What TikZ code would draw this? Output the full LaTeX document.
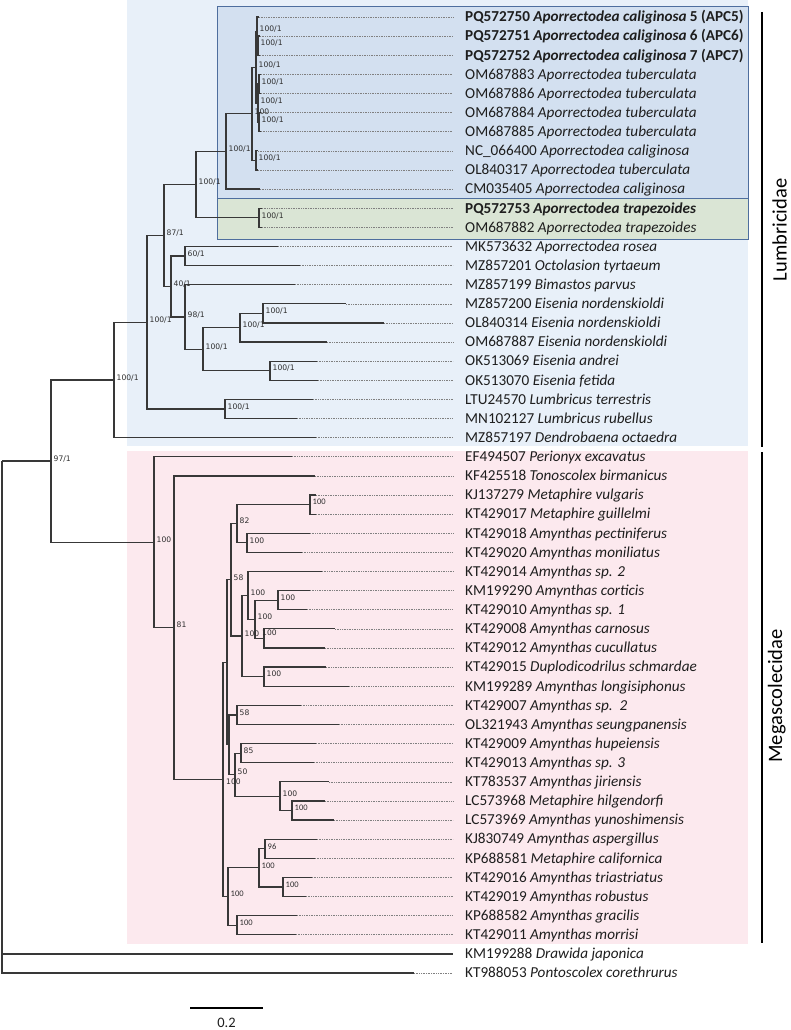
\documentclass[tikz,border=0pt]{standalone}
\usepackage{fontspec}
\setmainfont{Carlito}
\newfontfamily\leaffont{Carlito}
\newfontfamily\bsfont{DejaVu Sans}
\definecolor{bgblue}{HTML}{E8F0F9}
\definecolor{boxblue}{HTML}{D3E0F0}
\definecolor{boxgreen}{HTML}{DAE5D5}
\definecolor{boxline}{HTML}{4E6E9E}
\definecolor{bgpink}{HTML}{FCE9EE}
\definecolor{brc}{HTML}{383838}
\definecolor{dotc}{HTML}{808080}
\definecolor{txtc}{HTML}{1E1E1E}
\definecolor{bsc}{HTML}{2E2E2E}
\tikzset{
  br/.style={draw=brc, line width=1.25pt},
  dl/.style={draw=dotc, line width=0.6pt, dash pattern=on 0.6pt off 1.1pt},
  leaf/.style={anchor=west, inner xsep=12pt, inner ysep=0pt, text height=10.6pt, text depth=1pt,
    font=\leaffont\fontsize{15.2}{18}\selectfont, text=txtc},
  bs/.style={anchor=west, inner sep=0pt, text height=5.5pt, text depth=0pt,
    font=\bsfont\fontsize{7.6}{9}\selectfont, text=bsc},
  bss/.style={anchor=west, inner sep=0pt, text height=5.6pt, text depth=0pt,
    font=\leaffont\fontsize{8.5}{10}\selectfont, text=bsc},
  grp/.style={rotate=90, anchor=base, inner sep=0pt, font=\fontsize{20.5}{24}\selectfont, text=black},
  bar/.style={draw=black, line width=1.6pt}
}
\newcommand\leafrow[4]{%
  \coordinate (l#1) at (#2,#1);
  \node[leaf] (t#1) at (453,#1) {#4};
  \draw[br] (#3) |- (l#1);
  \draw[dl] (l#1) -- (t#1.west);
}
\newcommand\bsl[3][bs]{\node[#1] (b#2) at ([shift={(2.5pt,2.5pt)}]#2) {#3};}
\newcommand\br[2]{\draw[br] (#1) |- (#2);}
\begin{document}
\begin{tikzpicture}[x=1pt,y=-1pt]
\useasboundingbox (0,0) rectangle (790,1030);
% backgrounds
\fill[bgblue] (127,0) rectangle (748,446);
\fill[bgpink] (127,451) rectangle (748,944);
\filldraw[fill=boxblue, draw=boxline, line width=1pt] (217,7) rectangle (748,198);
\filldraw[fill=boxgreen, draw=boxline, line width=1pt] (217,198) rectangle (748,239);
% group bars
\coordinate (lb1) at (762,12); \coordinate (lb2) at (762,447);
\coordinate (mb1) at (762,452); \coordinate (mb2) at (762,943);
\draw[bar] (lb1) -- (lb2);
\draw[bar] (mb1) -- (mb2);
\node[grp] (glum) at (786.5,230) {Lumbricidae};
\node[grp] (gmeg) at (782,696) {Megascolecidae};
% scale bar
\coordinate (sb1) at (190,1008); \coordinate (sb2) at (263,1008);
\draw[draw=black, line width=1.2pt] (sb1) -- (sb2);
\node[font=\fontsize{14.5}{17}\selectfont, text=txtc, inner sep=0pt] (sbl) at (226.5,1023) {0.2};
\begin{scope}[y=-19.12pt, yshift=2.12pt]
% internal nodes
\coordinate (nK) at (257,1.75);
\coordinate (nKb) at (258,2.5);
\coordinate (nL45) at (259,4.5);
\coordinate (nL67) at (259,6.5);
\coordinate (nL47) at (258,5.5);
\coordinate (nI) at (256,3.625);
\coordinate (nJ) at (256,8.5);
\coordinate (nH) at (252,6.0625);
\coordinate (nF) at (226,8.03125);
\coordinate (nG) at (259,11.5);
\coordinate (nD) at (196,9.765625);
\coordinate (n60) at (185,13.5);
\coordinate (nP) at (263,16.5);
\coordinate (nN) at (240,17.25);
\coordinate (nO) at (270,19.5);
\coordinate (nM) at (203,18.375);
\coordinate (n98) at (185,16.6875);
\coordinate (nE) at (171,15.09375);
\coordinate (nC) at (164,12.4297);
\coordinate (nLum) at (225,21.5);
\coordinate (nB) at (147,16.9648);
\coordinate (nA) at (114,19.9824);
\coordinate (nMv) at (310,26.5);
\coordinate (nAp) at (247,28.5);
\coordinate (nX) at (237,27.5);
\coordinate (nAC) at (278,31.5);
\coordinate (nAD) at (264,33.5);
\coordinate (nAB) at (255,32.5);
\coordinate (nZ) at (248,31.25);
\coordinate (nAA) at (264,35.5);
\coordinate (nY) at (242,33.375);
\coordinate (nV) at (231,30.4375);
\coordinate (n58b) at (237,37.5);
\coordinate (n85) at (241,39.5);
\coordinate (nLC) at (292,42.5);
\coordinate (n100c) at (280,41.75);
\coordinate (n50) at (235,40.625);
\coordinate (nW) at (229,39.0625);
\coordinate (nT) at (227,34.75);
\coordinate (nAG) at (265,44.5);
\coordinate (nAH) at (283,46.5);
\coordinate (nAE) at (259,45.5);
\coordinate (nAF) at (237,48.5);
\coordinate (nU) at (228,47);
\coordinate (nS) at (223,40.875);
\coordinate (nR) at (174,32.9375);
\coordinate (nQ) at (154,28.46875);
\coordinate (n97) at (51,24.2256);
\coordinate (r) at (2,24.2256);
% internal branches
\br{nK}{nKb} \br{nL47}{nL45} \br{nL47}{nL67} \br{nI}{nK} \br{nI}{nL47}
\br{nH}{nI} \br{nH}{nJ} \br{nF}{nH} \br{nD}{nF} \br{nD}{nG}
\br{nC}{nD} \br{nC}{nE} \br{nE}{n60} \br{nE}{n98} \br{n98}{nM}
\br{nM}{nN} \br{nM}{nO} \br{nN}{nP} \br{nB}{nC} \br{nB}{nLum} \br{nA}{nB}
\br{n97}{nA} \br{n97}{nQ} \draw[br] (r) -- (n97);
\br{nQ}{nR} \br{nR}{nS} \br{nS}{nT} \br{nS}{nU} \br{nT}{nV} \br{nT}{nW}
\br{nV}{nX} \br{nV}{nY} \br{nX}{nMv} \br{nX}{nAp} \br{nY}{nZ} \br{nY}{nAA}
\br{nZ}{nAB} \br{nAB}{nAC} \br{nAB}{nAD} \br{nW}{n58b} \br{nW}{n50}
\br{n50}{n85} \br{n50}{n100c} \br{n100c}{nLC} \br{nU}{nAE} \br{nU}{nAF}
\br{nAE}{nAG} \br{nAE}{nAH}
% leaves
\leafrow{1}{259}{nK}{\textbf{PQ572750 \textit{Aporrectodea caliginosa} 5 (APC5)}}
\leafrow{2}{260}{nKb}{\textbf{PQ572751 \textit{Aporrectodea caliginosa} 6 (APC6)}}
\leafrow{3}{260}{nKb}{\textbf{PQ572752 \textit{Aporrectodea caliginosa} 7 (APC7)}}
\leafrow{4}{261}{nL45}{OM687883 \textit{Aporrectodea tuberculata}}
\leafrow{5}{261}{nL45}{OM687886 \textit{Aporrectodea tuberculata}}
\leafrow{6}{261}{nL67}{OM687884 \textit{Aporrectodea tuberculata}}
\leafrow{7}{261}{nL67}{OM687885 \textit{Aporrectodea tuberculata}}
\leafrow{8}{258}{nJ}{NC\_066400 \textit{Aporrectodea caliginosa}}
\leafrow{9}{258}{nJ}{OL840317 \textit{Aporrectodea tuberculata}}
\leafrow{10}{260}{nF}{CM035405 \textit{Aporrectodea caliginosa}}
\leafrow{11}{262}{nG}{\textbf{PQ572753 \textit{Aporrectodea trapezoides}}}
\leafrow{12}{262}{nG}{OM687882 \textit{Aporrectodea trapezoides}}
\leafrow{13}{278}{n60}{MK573632 \textit{Aporrectodea rosea}}
\leafrow{14}{300}{n60}{MZ857201 \textit{Octolasion tyrtaeum}}
\leafrow{15}{295}{n98}{MZ857199 \textit{Bimastos parvus}}
\leafrow{16}{346}{nP}{MZ857200 \textit{Eisenia nordenskioldi}}
\leafrow{17}{384}{nP}{OL840314 \textit{Eisenia nordenskioldi}}
\leafrow{18}{327}{nN}{OM687887 \textit{Eisenia nordenskioldi}}
\leafrow{19}{317}{nO}{OK513069 \textit{Eisenia andrei}}
\leafrow{20}{318}{nO}{OK513070 \textit{Eisenia fetida}}
\leafrow{21}{313}{nLum}{LTU24570 \textit{Lumbricus terrestris}}
\leafrow{22}{297}{nLum}{MN102127 \textit{Lumbricus rubellus}}
\leafrow{23}{316}{nA}{MZ857197 \textit{Dendrobaena octaedra}}
\leafrow{24}{292}{nQ}{EF494507 \textit{Perionyx excavatus}}
\leafrow{25}{315}{nR}{KF425518 \textit{Tonoscolex birmanicus}}
\leafrow{26}{316}{nMv}{KJ137279 \textit{Metaphire vulgaris}}
\leafrow{27}{316}{nMv}{KT429017 \textit{Metaphire guillelmi}}
\leafrow{28}{310}{nAp}{KT429018 \textit{Amynthas pectiniferus}}
\leafrow{29}{302}{nAp}{KT429020 \textit{Amynthas moniliatus}}
\leafrow{30}{322}{nZ}{KT429014 \textit{Amynthas sp. 2}}
\leafrow{31}{310}{nAC}{KM199290 \textit{Amynthas corticis}}
\leafrow{32}{307}{nAC}{KT429010 \textit{Amynthas sp. 1}}
\leafrow{33}{335}{nAD}{KT429008 \textit{Amynthas carnosus}}
\leafrow{34}{325}{nAD}{KT429012 \textit{Amynthas cucullatus}}
\leafrow{35}{326}{nAA}{KT429015 \textit{Duplodicodrilus schmardae}}
\leafrow{36}{349}{nAA}{KM199289 \textit{Amynthas longisiphonus}}
\leafrow{37}{301}{n58b}{KT429007 \textit{Amynthas sp.\ \ 2}}
\leafrow{38}{339}{n58b}{OL321943 \textit{Amynthas seungpanensis}}
\leafrow{39}{316}{n85}{KT429009 \textit{Amynthas hupeiensis}}
\leafrow{40}{314}{n85}{KT429013 \textit{Amynthas sp. 3}}
\leafrow{41}{329}{n100c}{KT783537 \textit{Amynthas jiriensis}}
\leafrow{42}{325}{nLC}{LC573968 \textit{Metaphire hilgendorfi}}
\leafrow{43}{334}{nLC}{LC573969 \textit{Amynthas yunoshimensis}}
\leafrow{44}{317}{nAG}{KJ830749 \textit{Amynthas aspergillus}}
\leafrow{45}{315}{nAG}{KP688581 \textit{Metaphire californica}}
\leafrow{46}{312}{nAH}{KT429016 \textit{Amynthas triastriatus}}
\leafrow{47}{306}{nAH}{KT429019 \textit{Amynthas robustus}}
\leafrow{48}{297}{nAF}{KP688582 \textit{Amynthas gracilis}}
\leafrow{49}{296}{nAF}{KT429011 \textit{Amynthas morrisi}}
\node[leaf] (t50) at (453,50) {KM199288 \textit{Drawida japonica}};
\draw[br] (r) |- (t50.west);
\leafrow{51}{414}{r}{KT988053 \textit{Pontoscolex corethrurus}}
% support labels
\bsl{nK}{100/1} \bsl{nKb}{100/1} \bsl{nI}{100/1} \bsl{nL45}{100/1}
\bsl{nL47}{100/1} \bsl{nH}{100} \bsl{nL67}{100/1} \bsl{nJ}{100/1}
\bsl{nF}{100/1} \bsl{nD}{100/1} \bsl{nG}{100/1} \bsl{nC}{87/1}
\bsl{n60}{60/1} \bsl{nE}{40/1} \bsl{n98}{98/1} \bsl{nB}{100/1}
\bsl{nP}{100/1} \bsl{nN}{100/1} \bsl{nM}{100/1} \bsl{nO}{100/1}
\bsl{nA}{100/1} \bsl{nLum}{100/1} \bsl{n97}{97/1}
\bsl{nQ}{100} \bsl{nR}{81} \bsl[bss]{nMv}{100} \bsl{nX}{82} \bsl{nAp}{100}
\bsl{nV}{58} \bsl{nZ}{100} \bsl{nAB}{100} \bsl{nAC}{100} \bsl{nY}{100}
\node[bs] (bnAD) at ([shift={(-2pt,6pt)}]nAD) {100};
\bsl{nAA}{100} \bsl{n58b}{58} \bsl{n85}{85} \bsl{n50}{50}
\node[bs] (bnS) at ([shift={(3pt,-2.6pt)}]nS) {100};
\bsl{n100c}{100} \bsl[bss]{nLC}{100} \bsl[bss]{nAG}{96} \bsl[bss]{nAE}{100}
\bsl[bss]{nAH}{100} \bsl[bss]{nU}{100} \bsl[bss]{nAF}{100}
\end{scope}
\end{tikzpicture}
\end{document}
